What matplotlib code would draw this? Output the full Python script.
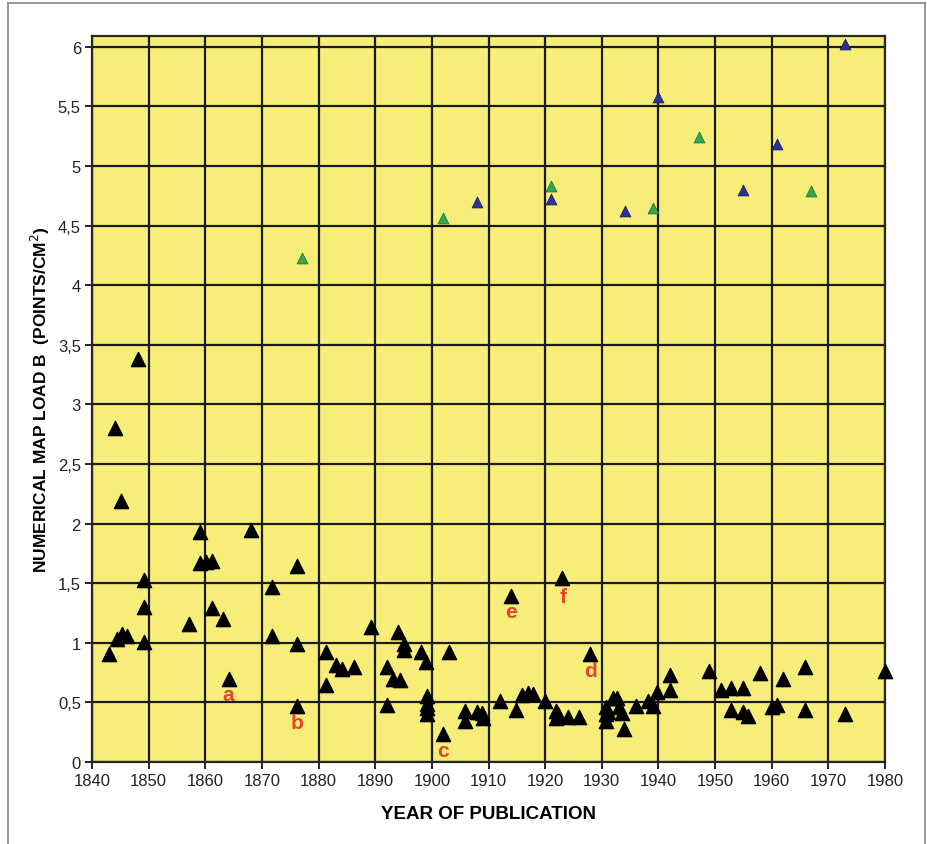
import matplotlib.pyplot as plt
from matplotlib.lines import Line2D

# black triangles: older maps
black_years = [1843, 1844.1, 1844.5, 1845.1, 1845.3, 1846.1, 1848.2, 1849.2, 1849.2, 1849.2,
               1857.1, 1859.1, 1859.1, 1860.2, 1861.1, 1861.1, 1863.1, 1864.1, 1868.0,
               1871.8, 1871.8, 1876.2, 1876.2, 1876.2, 1881.3, 1881.3, 1883.1, 1884.2, 1886.2,
               1889.2, 1892.1, 1892.1, 1893.2, 1894.3, 1894.1, 1895.1, 1895.1, 1898.0, 1898.9,
               1899.1, 1899.1, 1899.1, 1899.1, 1902.0, 1903.0, 1905.9, 1905.9, 1908.0, 1908.8,
               1909.1, 1912.0, 1914.0, 1914.8, 1916.0, 1916.9, 1917.9, 1920.0, 1921.9, 1921.9,
               1922.3, 1923.0, 1924.0, 1926.0, 1928.0, 1930.8, 1930.8, 1930.8, 1931.1, 1931.9,
               1932.7, 1933.0, 1933.6, 1934.0, 1936.0, 1938.1, 1939.0, 1939.8, 1942.0, 1942.0,
               1949.0, 1951.0, 1952.9, 1955.0, 1952.9, 1955.0, 1955.9, 1958.0, 1960.0, 1961.0,
               1962.0, 1965.9, 1965.9, 1972.9, 1980.0]
black_values = [0.91, 2.80, 1.03, 2.19, 1.07, 1.06, 3.38, 1.53, 1.30, 1.01,
                1.16, 1.93, 1.67, 1.68, 1.69, 1.29, 1.20, 0.70, 1.95,
                1.47, 1.06, 1.64, 0.99, 0.47, 0.92, 0.65, 0.81, 0.78, 0.80,
                1.13, 0.80, 0.48, 0.70, 0.69, 1.09, 0.99, 0.94, 0.92, 0.84,
                0.55, 0.49, 0.45, 0.40, 0.235, 0.92, 0.43, 0.34, 0.42, 0.41,
                0.37, 0.515, 1.39, 0.44, 0.56, 0.58, 0.57, 0.515, 0.43, 0.37,
                0.40, 1.54, 0.38, 0.38, 0.91, 0.46, 0.40, 0.34, 0.42, 0.54,
                0.54, 0.46, 0.41, 0.28, 0.47, 0.51, 0.47, 0.59, 0.73, 0.60,
                0.76, 0.60, 0.62, 0.62, 0.435, 0.42, 0.39, 0.745, 0.46, 0.48,
                0.70, 0.80, 0.435, 0.40, 0.76]

green_years = [1877.1, 1901.9, 1921.1, 1939.1, 1947.2, 1967.0]
green_values = [4.23, 4.56, 4.83, 4.65, 5.24, 4.79]

blue_years = [1908.0, 1921.1, 1934.1, 1940.0, 1955.0, 1961.0, 1972.9]
blue_values = [4.70, 4.72, 4.62, 5.58, 4.80, 5.18, 6.02]

# red letters marking single maps
note_text = ['a', 'b', 'c', 'd', 'e', 'f']
note_years = [1864.0, 1876.2, 1902.0, 1928.0, 1914.0, 1923.1]
note_values = [0.57, 0.33, 0.10, 0.77, 1.26, 1.39]

year_ticks = list(range(1840, 1981, 10))
load_ticks = [i * 0.5 for i in range(13)]
load_labels = [('%g' % t).replace('.', ',') for t in load_ticks]

plt.rcParams['font.family'] = ['Liberation Sans', 'DejaVu Sans']

fig = plt.figure(figsize=(9.27, 8.45), dpi=100)
ax = fig.add_axes([92 / 927, 82 / 845, (885 - 92) / 927, (763 - 37) / 845])
ax.set_facecolor('#f7ee7a')

ax.scatter(black_years, black_values, marker='^', s=105, color='black', zorder=3, clip_on=False)
ax.scatter(green_years, green_values, marker='^', s=62, color='#2fa84f',
           edgecolors='#1d6b30', linewidths=0.5, zorder=3, clip_on=False)
ax.scatter(blue_years, blue_values, marker='^', s=62, color='#2b3296',
           edgecolors='#15185a', linewidths=0.5, zorder=3, clip_on=False)

for t, x, y in zip(note_text, note_years, note_values):
    ax.text(x, y, t, color='#e8432b', fontsize=15, fontweight='bold',
            ha='center', va='center', zorder=4)

ax.set_xlim(1840, 1980)
ax.set_ylim(0, 6.09)
ax.set_xticks(year_ticks)
ax.set_yticks(load_ticks)
ax.set_yticklabels(load_labels)
ax.grid(True, color='#1a1a1a', linewidth=1.6, zorder=1)
ax.set_axisbelow(True)
ax.tick_params(direction='out', length=5, width=1.2, labelsize=12, pad=3,
               labelcolor='#222222')
for s in ax.spines.values():
    s.set_color('#2a2a1a')
    s.set_linewidth(1.6)

ax.set_xlabel('YEAR OF PUBLICATION', fontsize=13.5, fontweight='bold', labelpad=12)
ax.set_ylabel('NUMERICAL MAP LOAD B  (POINTS/CM$^2$)', fontsize=12.5,
              fontweight='bold', labelpad=4)

# thin grey frame round the figure
fig.add_artist(Line2D([8 / 927, 8 / 927], [0, 1 - 4 / 845], color='#888888', lw=1.2))
fig.add_artist(Line2D([8 / 927, 925 / 927], [1 - 4 / 845, 1 - 4 / 845], color='#888888', lw=1.2))
fig.add_artist(Line2D([925 / 927, 925 / 927], [0, 1 - 4 / 845], color='#888888', lw=1.2))

fig.savefig('out.png', dpi=100)
